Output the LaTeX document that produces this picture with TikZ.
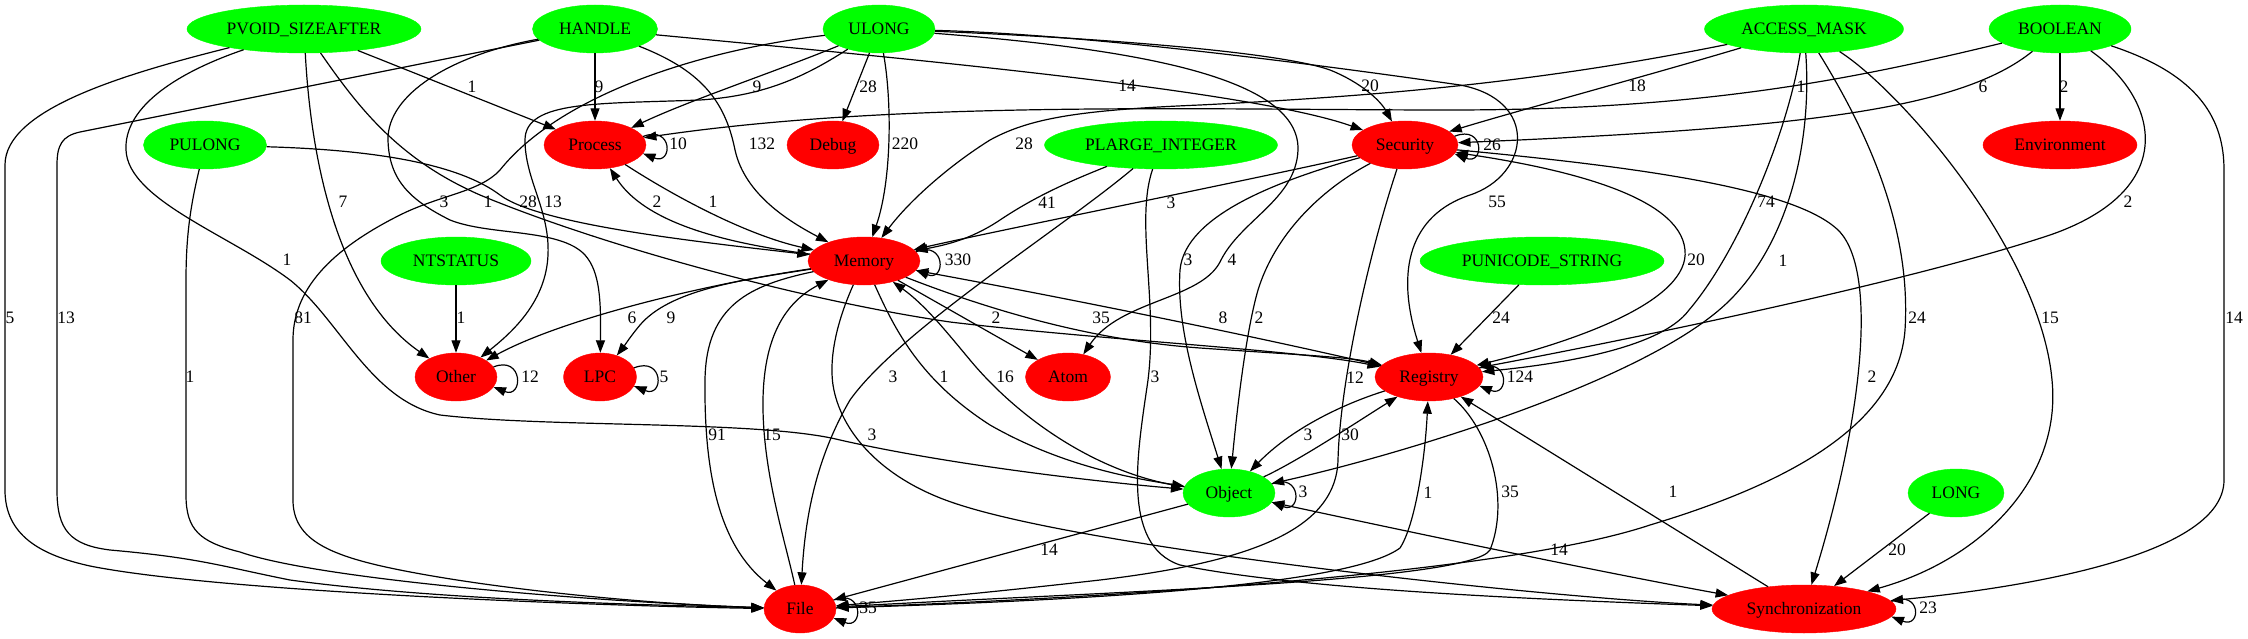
\documentclass[tikz,border=0pt]{standalone}
\usepackage{fontspec}
\setmainfont{Liberation Serif}
\usetikzlibrary{shapes.geometric,arrows.meta}
\definecolor{gvgreen}{RGB}{0,255,0}
\definecolor{gvred}{RGB}{255,0,0}
\tikzset{
  gv/.style={ellipse, inner sep=0pt, minimum height=48pt, text height=12pt, text depth=1pt, font=\fontsize{17.5}{20}\selectfont},
  gn/.style={gv, fill=gvgreen, draw=gvgreen},
  rn/.style={gv, fill=gvred, draw=gvred},
  lb/.style={inner sep=0pt, text height=12pt, text depth=1pt, font=\fontsize{17.5}{20}\selectfont},
  e/.style={draw=black, line width=1.2pt, -{Triangle[length=12.5pt,width=9pt]}},
  eb/.style={draw=black, line width=1.2pt, {Triangle[length=12.5pt,width=9pt]}-{Triangle[length=12.5pt,width=9pt]}},
}
\begin{document}
\begin{tikzpicture}[x=1pt,y=-1pt]
\fill[white] (0,0) rectangle (2248,639);
\useasboundingbox (0,0) rectangle (2248,639);
% nodes
\node[gn, minimum width=234pt] (pvoid) at (304,29) {PVOID\_SIZEAFTER};
\node[gn, minimum width=125pt] (handle) at (595,29) {HANDLE};
\node[gn, minimum width=112pt] (ulong) at (879,29) {ULONG};
\node[gn, minimum width=199pt] (access) at (1804,29) {ACCESS\_MASK};
\node[gn, minimum width=142pt] (boolean) at (2060,29) {BOOLEAN};
\node[gn, minimum width=123pt] (pulong) at (205,145) {PULONG};
\node[rn, minimum width=102pt] (process) at (595,145) {Process};
\node[rn, minimum width=92pt] (debug) at (833,145) {Debug};
\node[gn, minimum width=233pt] (plarge) at (1161,145) {PLARGE\_INTEGER};
\node[rn, minimum width=106pt] (security) at (1405,145) {Security};
\node[rn, minimum width=154pt] (environment) at (2060,145) {Environment};
\node[gn, minimum width=150pt] (ntstatus) at (456,261) {NTSTATUS};
\node[rn, minimum width=112pt] (memory) at (864,261) {Memory};
\node[gn, minimum width=244pt] (punicode) at (1542,261) {PUNICODE\_STRING};
\node[rn, minimum width=82pt] (other) at (456,377) {Other};
\node[rn, minimum width=73pt] (lpc) at (600,377) {LPC};
\node[rn, minimum width=85pt] (atom) at (1068,377) {Atom};
\node[rn, minimum width=108pt] (registry) at (1429,377) {Registry};
\node[gn, minimum width=92pt] (object) at (1229,493) {Object};
\node[gn, minimum width=96pt] (long) at (1956,493) {LONG};
\node[rn, minimum width=72pt] (file) at (800,609) {File};
\node[rn, minimum width=184pt] (sync) at (1804,609) {Synchronization};
% PVOID_SIZEAFTER
\draw[e] (pvoid) -- (process);
\draw[e] (pvoid) .. controls (120,75) and (5,110) .. (5,165) -- (5,490) .. controls (5,535) and (40,555) .. (90,566) .. controls (220,592) and (600,606) .. (file);
\draw[e] (pvoid) .. controls (312,180) and (345,300) .. (other);
\draw[e] (pvoid) .. controls (360,110) and (400,160) .. (480,195) .. controls (600,245) and (800,300) .. (950,322) .. controls (1100,340) and (1300,350) .. (registry);
\draw[e] (pvoid) .. controls (170,75) and (124,110) .. (126,150) .. controls (128,200) and (230,235) .. (290,280) .. controls (340,320) and (370,400) .. (440,415) .. controls (550,428) and (760,420) .. (840,440) .. controls (950,465) and (1100,482) .. (object);
% HANDLE
\draw[e] (handle) -- (process);
\draw[e] (handle) -- (80,132) .. controls (62,136) and (57,145) .. (57,165) -- (57,490) .. controls (57,530) and (70,545) .. (110,550) .. controls (200,558) and (220,566) .. (290,580) .. controls (450,602) and (700,606) .. (file);
\draw[e] (handle) .. controls (700,70) and (725,100) .. (735,150) .. controls (745,195) and (790,222) .. (memory);
\draw[e] (handle) .. controls (900,58) and (1250,90) .. (security);
\draw[e] (handle) .. controls (450,55) and (387,95) .. (388,140) .. controls (389,180) and (410,200) .. (450,220) .. controls (490,236) and (560,228) .. (585,255) .. controls (600,272) and (601,300) .. (lpc);
% PULONG
\draw[e] (pulong) .. controls (192,200) and (186,230) .. (186,280) -- (186,495) .. controls (186,530) and (200,542) .. (240,552) .. controls (320,580) and (600,602) .. (file);
\draw[e] (pulong) .. controls (380,150) and (460,165) .. (500,195) .. controls (540,225) and (700,242) .. (memory);
% NTSTATUS
\draw[e] (ntstatus) -- (other);
% ULONG
\draw[e] (ulong) .. controls (700,50) and (560,95) .. (500,170) .. controls (480,192) and (440,195) .. (400,215) .. controls (330,250) and (293,290) .. (293,340) -- (293,500) .. controls (293,540) and (330,556) .. (400,570) .. controls (500,590) and (650,604) .. (file);
\draw[e] (ulong) .. controls (780,70) and (690,100) .. (process);
\draw[e] (ulong) .. controls (800,80) and (760,96) .. (700,100) .. controls (600,104) and (525,100) .. (525,140) .. controls (525,180) and (550,210) .. (548,255) .. controls (546,300) and (515,330) .. (other);
\draw[e] (ulong) -- (debug);
\draw[e] (ulong) .. controls (892,100) and (892,180) .. (memory);
\draw[e] (ulong) .. controls (1100,38) and (1280,52) .. (1330,70) .. controls (1360,82) and (1380,100) .. (security);
\draw[e] (ulong) .. controls (1080,34) and (1300,62) .. (1460,85) .. controls (1540,100) and (1530,175) .. (1470,195) .. controls (1410,215) and (1395,270) .. (registry);
\draw[e] (ulong) .. controls (1150,50) and (1300,80) .. (1298,150) .. controls (1296,200) and (1240,220) .. (1220,262) .. controls (1200,300) and (1120,300) .. (atom);
% ACCESS_MASK
\draw[e] (access) .. controls (1550,80) and (1400,95) .. (1200,105) .. controls (1080,110) and (1030,118) .. (990,140) .. controls (950,165) and (910,200) .. (memory);
\draw[e] (access) .. controls (1650,75) and (1520,110) .. (security);
\draw[e] (access) .. controls (1788,130) and (1740,250) .. (1689,310) .. controls (1660,350) and (1550,365) .. (registry);
\draw[e] (access) .. controls (1812,140) and (1790,240) .. (1730,300) .. controls (1650,380) and (1400,455) .. (object);
\draw[e] (access) .. controls (1860,120) and (1912,220) .. (1905,330) .. controls (1898,420) and (1800,480) .. (1650,525) .. controls (1500,575) and (1100,598) .. (file);
\draw[e] (access) .. controls (1900,90) and (2040,250) .. (2052,380) .. controls (2062,480) and (1980,560) .. (sync);
% BOOLEAN
\draw[e] (boolean) .. controls (1850,80) and (1700,110) .. (1450,110) .. controls (1200,110) and (900,100) .. (process);
\draw[e] (boolean) .. controls (1960,110) and (1800,128) .. (security);
\draw[e] (boolean) -- (environment);
\draw[e] (boolean) .. controls (2160,100) and (2180,190) .. (2050,235) .. controls (1900,285) and (1600,345) .. (registry);
\draw[e] (boolean) .. controls (2200,75) and (2224,120) .. (2224,170) -- (2224,480) .. controls (2224,560) and (2000,590) .. (sync);
% PLARGE_INTEGER
\draw[e] (plarge) .. controls (1060,185) and (1030,200) .. (1000,220) .. controls (970,240) and (945,245) .. (memory);
\draw[e] (plarge) .. controls (1060,230) and (900,330) .. (850,400) .. controls (815,460) and (805,520) .. (file);
\draw[e] (plarge) .. controls (1135,220) and (1158,300) .. (1148,380) .. controls (1138,450) and (1120,545) .. (1180,565) .. controls (1300,590) and (1550,600) .. (sync);
% PUNICODE_STRING, LONG
\draw[e] (punicode) -- (registry);
\draw[e] (long) -- (sync);
% Process
\draw[e] (process.10) .. controls +(30,-12) and +(30,12) .. (process.-10);
\draw[e] (process) .. controls (680,200) and (750,236) .. (memory);
\draw[e] (memory) .. controls (700,240) and (640,215) .. (process);
% Security
\draw[e] (security.10) .. controls +(30,-12) and +(30,12) .. (security.-10);
\draw[e] (security) .. controls (1250,180) and (1000,230) .. (memory);
\draw[e] (security) .. controls (1280,180) and (1185,215) .. (1180,270) .. controls (1176,330) and (1200,400) .. (object);
\draw[e] (security) .. controls (1320,190) and (1275,235) .. (1258,290) .. controls (1245,335) and (1236,420) .. (object);
\draw[e] (security) .. controls (1370,250) and (1340,380) .. (1338,460) .. controls (1336,530) and (1250,562) .. (1100,580) .. controls (950,597) and (880,602) .. (file);
\draw[e] (security) .. controls (1650,168) and (1800,190) .. (1840,232) .. controls (1878,275) and (1862,420) .. (sync);
\draw[eb] (registry) .. controls (1580,340) and (1690,300) .. (1685,250) .. controls (1680,195) and (1560,168) .. (security);
% Memory
\draw[e] (memory.10) .. controls +(30,-12) and +(30,12) .. (memory.-10);
\draw[e] (memory) .. controls (700,285) and (560,320) .. (other);
\draw[e] (memory) .. controls (740,280) and (670,290) .. (640,325) .. controls (630,337) and (625,345) .. (lpc);
\draw[e] (memory) -- (atom);
\draw[e] (memory) .. controls (990,310) and (1090,340) .. (1200,348) .. controls (1300,355) and (1350,357) .. (registry);
\draw[e] (registry) .. controls (1250,335) and (1050,295) .. (memory);
\draw[e] (memory) .. controls (750,285) and (706,305) .. (705,380) .. controls (704,470) and (718,545) .. (file);
\draw[e] (file) .. controls (785,540) and (762,470) .. (763,400) .. controls (764,330) and (790,300) .. (memory);
\draw[e] (memory) .. controls (895,330) and (920,380) .. (990,425) .. controls (1060,465) and (1130,478) .. (object);
\draw[e] (object) .. controls (1100,475) and (1020,420) .. (970,360) .. controls (945,330) and (925,305) .. (memory);
\draw[e] (memory) .. controls (842,310) and (828,350) .. (833,385) .. controls (840,430) and (880,480) .. (960,505) .. controls (1100,550) and (1550,598) .. (sync);
% Registry
\draw[e] (registry.10) .. controls +(30,-12) and +(30,12) .. (registry.-10);
\draw[e] (registry) .. controls (1340,405) and (1290,430) .. (object);
\draw[e] (object) .. controls (1300,460) and (1360,420) .. (registry);
\draw[e] (registry) .. controls (1490,430) and (1510,500) .. (1490,550) .. controls (1470,582) and (1100,592) .. (file);
\draw[e] (file) .. controls (1100,600) and (1350,585) .. (1400,548) .. controls (1415,525) and (1425,460) .. (registry);
\draw[e] (sync) -- (registry);
% Object
\draw[e] (object.12) .. controls +(30,-12) and +(30,12) .. (object.-12);
\draw[e] (object) -- (file);
\draw[eb] (object) .. controls (1400,530) and (1600,572) .. (sync);
% other loops
\draw[e] (file.15) .. controls +(30,-12) and +(30,12) .. (file.-15);
\draw[e] (sync.5) .. controls +(30,-12) and +(30,12) .. (sync.-5);
\draw[e] (other.15) .. controls +(30,-12) and +(30,12) .. (other.-15);
\draw[e] (lpc.15) .. controls +(30,-12) and +(30,12) .. (lpc.-15);
% labels
\node[lb] (t01) at (472,87) {1};
\node[lb] (t02) at (599,87) {9};
\node[lb] (t03) at (757,87) {9};
\node[lb] (t04) at (868,87) {28};
\node[lb] (t05) at (1127,86) {14};
\node[lb] (t06) at (1370,86) {20};
\node[lb] (t07) at (1637,86) {18};
\node[lb] (t08) at (1801,87) {1};
\node[lb] (t09) at (1983,87) {6};
\node[lb] (t10) at (2064,87) {2};
\node[lb] (t11) at (678,144) {10};
\node[lb] (t12) at (762,144) {132};
\node[lb] (t13) at (905,144) {220};
\node[lb] (t14) at (1024,144) {28};
\node[lb] (t15) at (1492,145) {26};
\node[lb] (t16) at (343,202) {7};
\node[lb] (t17) at (444,202) {3};
\node[lb] (t18) at (488,202) {1};
\node[lb] (t19) at (528,202) {28};
\node[lb] (t20) at (553,202) {13};
\node[lb] (t21) at (657,202) {2};
\node[lb] (t22) at (713,202) {1};
\node[lb] (t23) at (1047,203) {41};
\node[lb] (t24) at (1171,203) {3};
\node[lb] (t25) at (1497,202) {55};
\node[lb] (t26) at (1766,202) {74};
\node[lb] (t27) at (2128,202) {2};
\node[lb] (t28) at (287,260) {1};
\node[lb] (t29) at (958,260) {330};
\node[lb] (t30) at (1188,260) {3};
\node[lb] (t31) at (1232,260) {4};
\node[lb] (t32) at (1696,260) {20};
\node[lb] (t33) at (1783,261) {1};
\node[lb] (t34) at (10,318) {5};
\node[lb] (t35) at (66,318) {13};
\node[lb] (t36) at (303,318) {81};
\node[lb] (t37) at (461,318) {1};
\node[lb] (t38) at (632,318) {6};
\node[lb] (t39) at (671,318) {9};
\node[lb] (t40) at (996,318) {2};
\node[lb] (t41) at (1101,318) {35};
\node[lb] (t42) at (1223,318) {8};
\node[lb] (t43) at (1259,318) {2};
\node[lb] (t44) at (1501,318) {24};
\node[lb] (t45) at (1917,318) {24};
\node[lb] (t46) at (2050,318) {15};
\node[lb] (t47) at (2234,318) {14};
\node[lb] (t48) at (190,377) {1};
\node[lb] (t49) at (530,377) {12};
\node[lb] (t50) at (664,377) {5};
\node[lb] (t51) at (893,377) {3};
\node[lb] (t52) at (944,377) {1};
\node[lb] (t53) at (1005,377) {16};
\node[lb] (t54) at (1155,377) {3};
\node[lb] (t55) at (1355,378) {12};
\node[lb] (t56) at (1520,377) {124};
\node[lb] (t57) at (1872,377) {2};
\node[lb] (t58) at (717,435) {91};
\node[lb] (t59) at (772,435) {15};
\node[lb] (t60) at (872,435) {3};
\node[lb] (t61) at (1308,435) {3};
\node[lb] (t62) at (1350,435) {30};
\node[lb] (t63) at (1428,493) {1};
\node[lb] (t64) at (1510,492) {35};
\node[lb] (t65) at (1673,492) {1};
\node[lb] (t66) at (1303,492) {3};
\node[lb] (t67) at (1049,550) {14};
\node[lb] (t68) at (1559,550) {14};
\node[lb] (t69) at (1897,550) {20};
\node[lb] (t70) at (868,608) {35};
\node[lb] (t71) at (1928,608) {23};
\end{tikzpicture}
\end{document}
